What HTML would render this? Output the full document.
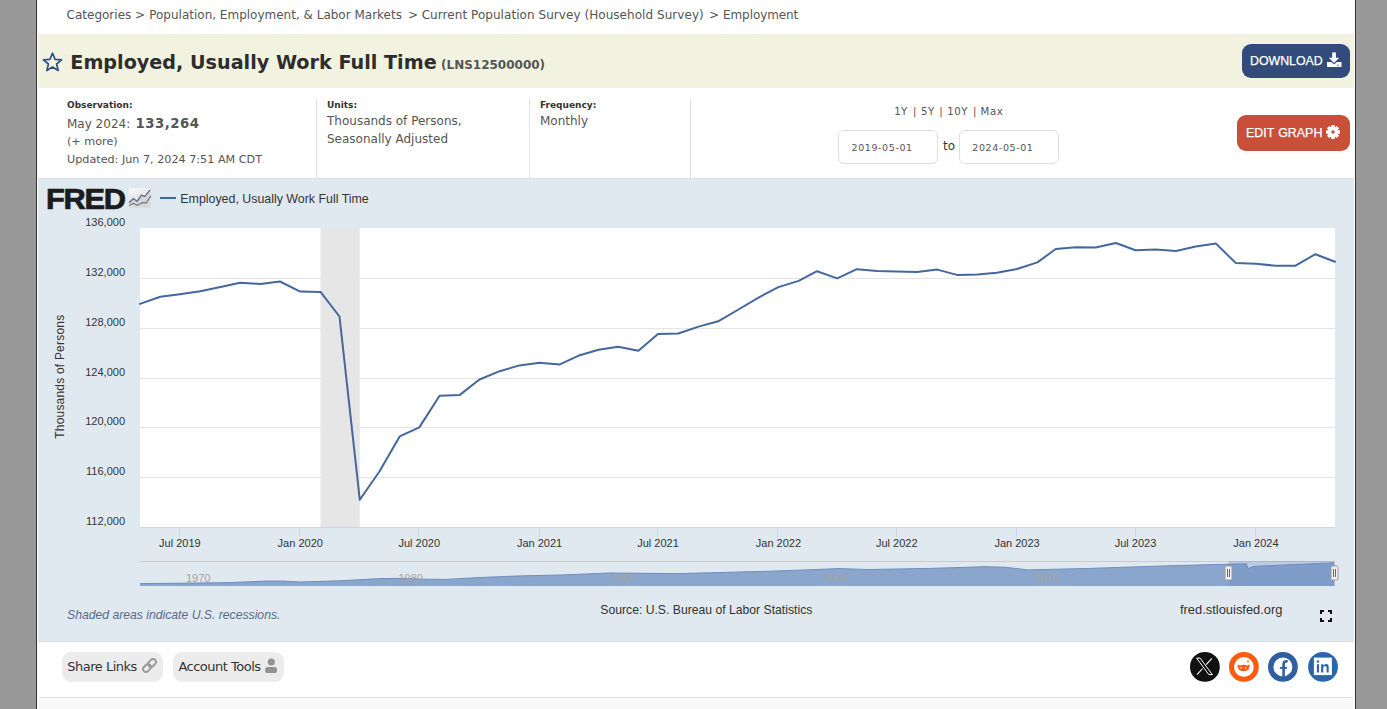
<!DOCTYPE html>
<html><head><meta charset="utf-8"><title>Employed, Usually Work Full Time (LNS12500000) | FRED</title>
<style>
*{box-sizing:border-box}
html,body{margin:0;padding:0}
body{width:1387px;height:709px;overflow:hidden;background:#999;position:relative;font-family:"DejaVu Sans",Verdana,sans-serif;color:#333}
.a{position:absolute;white-space:nowrap;line-height:1}
.ls{font-family:"Liberation Sans",Arial,sans-serif}
#page{position:absolute;left:36px;top:0;width:1320px;height:709px;background:#fff;border-left:1px solid #333;border-right:1px solid #333}
#band{position:absolute;left:38px;top:34px;width:1316px;height:54px;background:#f1f3e0}
#chartbg{position:absolute;left:38px;top:178px;width:1316px;height:464px;background:#e1e9f0;border-top:1px solid #dbe0e6;border-bottom:1px solid #d9dee4}
#bottom{position:absolute;left:38px;top:697px;width:1315px;height:12px;background:#f9f9f9;border-top:1px solid #e2e2e2;border-top-left-radius:3px;border-top-right-radius:3px}
.sep{position:absolute;top:98px;width:1px;height:80px;background:#e3e3e3}
.btn{position:absolute;border-radius:9px;color:#fff}
.inp{position:absolute;top:130px;width:100px;height:34px;border:1px solid #dedede;border-radius:6px;background:#fff}
.pill{position:absolute;top:652px;height:30px;background:#ececec;border-radius:9px}
.brd{color:#555;font-size:12px}
</style></head>
<body>
<div id="page"></div>
<div id="band"></div>
<div id="chartbg"></div>
<div id="bottom"></div>

<!-- breadcrumb -->
<div class="a brd" style="left:66.6px;top:8.8px">Categories</div>
<div class="a brd" style="left:135px;top:8.8px">&gt;</div>
<div class="a brd" style="left:149.2px;top:8.8px">Population, Employment, &amp; Labor Markets</div>
<div class="a brd" style="left:408px;top:8.8px">&gt;</div>
<div class="a brd" style="left:421.7px;top:8.8px;letter-spacing:.055px">Current Population Survey (Household Survey)</div>
<div class="a brd" style="left:709px;top:8.8px">&gt;</div>
<div class="a brd" style="left:723px;top:8.8px;letter-spacing:-.08px">Employment</div>

<!-- title -->
<svg class="a" style="left:41px;top:51px" width="23" height="22" viewBox="0 0 23 22"><path d="M11.5 2.2 L14.1 8.3 L20.6 8.8 L15.6 13 L17.2 19.5 L11.5 16 L5.8 19.5 L7.4 13 L2.4 8.8 L8.9 8.3 Z" fill="none" stroke="#2f5088" stroke-width="1.7" stroke-linejoin="round"/></svg>
<div class="a" style="left:70.3px;top:52.6px;font-size:19.18px;font-weight:bold;color:#2d2d2d">Employed, Usually Work Full Time</div>
<div class="a" style="left:441px;top:58.6px;font-size:12px;font-weight:bold;color:#555">(LNS12500000)</div>

<div class="btn" style="left:1242px;top:44px;width:108px;height:34px;background:#334b7a"></div>
<div class="a ls" style="left:1250px;top:55.4px;font-size:12.35px;color:#fff;-webkit-text-stroke:.25px #fff">DOWNLOAD</div>
<svg class="a" style="left:1327px;top:52px" width="15" height="16" viewBox="0 0 15 16"><rect x="5.2" y="0.4" width="3.7" height="6" fill="#fff"/><path d="M1.8 5.8 H12.2 L7.05 11.1 Z" fill="#fff"/><path d="M-0.1 10 H4.3 L7.05 12.6 L9.8 10 H14.5 V15.1 H-0.1 Z" fill="#fff"/><rect x="10.2" y="12.8" width="1.7" height="0.9" fill="#334b7a"/></svg>

<!-- meta -->
<div class="a" style="left:67px;top:101.2px;font-size:9px;font-weight:bold;color:#333">Observation:</div>
<div class="a" style="left:67px;top:117.6px;font-size:12px;color:#555">May 2024:</div><div class="a" style="left:135.5px;top:116.6px;font-size:13.3px;font-weight:bold;color:#555;letter-spacing:.5px">133,264</div>
<div class="a" style="left:67px;top:135.8px;font-size:11.2px;color:#555">(+ more)</div>
<div class="a" style="left:67px;top:153.8px;font-size:11.2px;color:#555">Updated: Jun 7, 2024 7:51 AM CDT</div>
<div class="sep" style="left:316px"></div>
<div class="a" style="left:327px;top:101.2px;font-size:9px;font-weight:bold;color:#333">Units:</div>
<div class="a" style="left:327px;top:114.5px;font-size:12px;color:#555">Thousands of Persons,</div>
<div class="a" style="left:327px;top:132.7px;font-size:12px;color:#555">Seasonally Adjusted</div>
<div class="sep" style="left:529px"></div>
<div class="a" style="left:540px;top:101.2px;font-size:9px;font-weight:bold;color:#333">Frequency:</div>
<div class="a" style="left:540px;top:114.5px;font-size:12px;color:#555">Monthly</div>
<div class="sep" style="left:690px"></div>

<div class="a" style="left:894.2px;top:107.4px;font-size:10.2px;color:#555;letter-spacing:.4px">1Y</div>
<div class="a" style="left:913px;top:107.4px;font-size:10.2px;color:#555">|</div>
<div class="a" style="left:921px;top:107.4px;font-size:10.2px;color:#555;letter-spacing:.4px">5Y</div>
<div class="a" style="left:939.2px;top:107.4px;font-size:10.2px;color:#555">|</div>
<div class="a" style="left:947.2px;top:107.4px;font-size:10.2px;color:#555;letter-spacing:.6px">10Y</div>
<div class="a" style="left:973px;top:107.4px;font-size:10.2px;color:#555">|</div>
<div class="a" style="left:980.6px;top:107.4px;font-size:10.2px;color:#555;letter-spacing:.55px">Max</div>
<div class="inp" style="left:838px"></div>
<div class="inp" style="left:959px"></div>
<div class="a" style="left:851.5px;top:142.9px;font-size:9.5px;color:#555;letter-spacing:.6px">2019-05-01</div>
<div class="a" style="left:972.3px;top:142.9px;font-size:9.5px;color:#555;letter-spacing:.6px">2024-05-01</div>
<div class="a" style="left:943px;top:140.4px;font-size:12px;color:#333">to</div>

<div class="btn" style="left:1237px;top:115px;width:113px;height:36px;background:#c94f39"></div>
<div class="a ls" style="left:1246px;top:127px;font-size:12.45px;color:#fff;-webkit-text-stroke:.25px #fff;word-spacing:.6px">EDIT GRAPH</div>
<svg class="a" style="left:1324.75px;top:123.85px" width="16" height="16" viewBox="-8 -8 16 16"><g fill="#fff"><circle r="5.4"/><g id="t"><rect x="-1.7" y="-6.95" width="3.4" height="2.8" rx=".4"/></g><use href="#t" transform="rotate(45)"/><use href="#t" transform="rotate(90)"/><use href="#t" transform="rotate(135)"/><use href="#t" transform="rotate(180)"/><use href="#t" transform="rotate(225)"/><use href="#t" transform="rotate(270)"/><use href="#t" transform="rotate(315)"/></g><circle r="1.75" fill="#c94f39"/></svg>

<!-- chart -->
<svg class="a" style="left:0;top:0" width="1387" height="709" viewBox="0 0 1387 709" font-family="Liberation Sans, Arial, sans-serif">
 <rect x="140" y="228" width="1195" height="299.5" fill="#fff"/>
 <g stroke="#e4e4e4" stroke-width="1">
  <line x1="140" x2="1335" y1="278.5" y2="278.5"/>
  <line x1="140" x2="1335" y1="328.5" y2="328.5"/>
  <line x1="140" x2="1335" y1="378.5" y2="378.5"/>
  <line x1="140" x2="1335" y1="427.5" y2="427.5"/>
  <line x1="140" x2="1335" y1="477.5" y2="477.5"/>
 </g>
 <rect x="320.5" y="228" width="39.3" height="299.5" fill="#e6e6e6"/>
 <line x1="140" x2="1335" y1="527.5" y2="527.5" stroke="#ccd6eb"/>
 <g stroke="#ccd6eb">
  <line x1="179.5" x2="179.5" y1="528" y2="537"/>
  <line x1="299.5" x2="299.5" y1="528" y2="537"/>
  <line x1="418.5" x2="418.5" y1="528" y2="537"/>
  <line x1="539.5" x2="539.5" y1="528" y2="537"/>
  <line x1="657.5" x2="657.5" y1="528" y2="537"/>
  <line x1="777.5" x2="777.5" y1="528" y2="537"/>
  <line x1="896.5" x2="896.5" y1="528" y2="537"/>
  <line x1="1016.5" x2="1016.5" y1="528" y2="537"/>
  <line x1="1135.5" x2="1135.5" y1="528" y2="537"/>
  <line x1="1255.5" x2="1255.5" y1="528" y2="537"/>
 </g>
 <polyline fill="none" stroke="#44679e" stroke-width="2" stroke-linejoin="round" stroke-linecap="round" points="140.0,303.9 160.3,296.7 179.9,294.2 200.2,291.3 220.5,286.9 240.1,282.7 260.4,284.0 280.0,281.5 300.2,291.6 320.5,291.9 339.5,316.5 359.8,499.8 379.4,471.5 399.7,436.4 419.3,427.4 439.6,395.8 459.8,394.9 479.5,379.5 499.7,371.2 519.4,365.4 539.6,362.7 559.9,364.4 578.2,355.8 598.5,349.8 618.1,346.7 638.4,350.7 658.0,333.9 678.3,333.5 698.6,326.6 718.2,321.3 738.5,309.5 758.1,297.8 778.4,287.1 798.7,280.9 817.0,271.2 837.2,278.4 856.9,269.2 877.1,271.0 896.8,271.5 917.0,271.9 937.3,269.6 956.9,274.9 977.2,274.4 996.8,272.8 1017.1,269.0 1037.4,262.4 1055.7,249.0 1076.0,247.3 1095.6,247.6 1115.9,243.0 1135.5,250.2 1155.8,249.5 1176.1,250.9 1195.7,246.6 1216.0,243.6 1235.6,262.9 1255.9,263.7 1276.1,265.8 1295.1,265.8 1315.4,254.2 1335.0,261.7"/>
 <g font-size="11" fill="#333" text-anchor="end">
  <text x="125" y="225.9">136,000</text>
  <text x="125" y="275.9">132,000</text>
  <text x="125" y="325.9">128,000</text>
  <text x="125" y="375.9">124,000</text>
  <text x="125" y="424.9">120,000</text>
  <text x="125" y="474.9">116,000</text>
  <text x="125" y="524.9">112,000</text>
 </g>
 <g font-size="11" fill="#333" text-anchor="middle">
  <text x="179.9" y="547">Jul 2019</text>
  <text x="300.25" y="547">Jan 2020</text>
  <text x="419.3" y="547">Jul 2020</text>
  <text x="539.6" y="547">Jan 2021</text>
  <text x="658.0" y="547">Jul 2021</text>
  <text x="778.4" y="547">Jan 2022</text>
  <text x="896.8" y="547">Jul 2022</text>
  <text x="1017.1" y="547">Jan 2023</text>
  <text x="1135.5" y="547">Jul 2023</text>
  <text x="1255.9" y="547">Jan 2024</text>
 </g>
 <text transform="translate(63.8,376.7) rotate(-90)" text-anchor="middle" font-size="12" letter-spacing=".2" fill="#333">Thousands of Persons</text>
 <!-- legend -->
 <line x1="160" x2="176" y1="198" y2="198" stroke="#44679e" stroke-width="2"/>
 <text x="180.3" y="203" font-size="12.4" fill="#333">Employed, Usually Work Full Time</text>
 <!-- navigator -->
 <line x1="140" x2="1335" y1="561.5" y2="561.5" stroke="#cccccc"/>

 <polygon points="140,583.6 183,583.2 230,582.6 268,581 284,581.1 300,582 340,580.8 380,578.6 402,578.3 420,579.1 446,579.4 480,577.5 519,575.9 560,575 610,573 679,573.6 770,571.2 816,569.5 839,568.6 868,569.5 930,568.4 985,566.7 1005,567.2 1028,569.9 1090,568.4 1159,566.1 1223,564.3 1246.5,563.8 1247.7,568.6 1254,566.4 1334.5,562.8 1334.5,586 140,586" fill="#8ba6cc"/>
 <polyline points="140,583.6 183,583.2 230,582.6 268,581 284,581.1 300,582 340,580.8 380,578.6 402,578.3 420,579.1 446,579.4 480,577.5 519,575.9 560,575 610,573 679,573.6 770,571.2 816,569.5 839,568.6 868,569.5 930,568.4 985,566.7 1005,567.2 1028,569.9 1090,568.4 1159,566.1 1223,564.3 1246.5,563.8 1247.7,568.6 1254,566.4 1334.5,562.8" fill="none" stroke="#6f8fc0" stroke-width="1"/>
 <g font-size="11" fill="#a3a3a3">
  <text x="186" y="582">1970</text>
  <text x="398.5" y="582">1980</text>
  <text x="611" y="582">1990</text>
  <text x="822.5" y="582">2000</text>
  <text x="1034" y="582">2010</text>
 </g>
 <rect x="1228.5" y="561" width="106" height="25" fill="#6685c2" fill-opacity=".3"/>
 <g fill="#f2f2f2" stroke="#999" stroke-width="1">
  <rect x="1225" y="566" width="7" height="14" rx="1.5"/>
  <rect x="1331" y="566" width="7" height="14" rx="1.5"/>
 </g>
 <g stroke="#666" stroke-width="1">
  <line x1="1227.5" x2="1227.5" y1="569" y2="577"/><line x1="1229.5" x2="1229.5" y1="569" y2="577"/>
  <line x1="1333.5" x2="1333.5" y1="569" y2="577"/><line x1="1335.5" x2="1335.5" y1="569" y2="577"/>
 </g>
 <!-- footer texts -->
 <text x="67" y="619" font-size="12.2" font-style="italic" fill="#5a6a8a">Shaded areas indicate U.S. recessions.</text>
 <text x="600.3" y="614" font-size="12.2" fill="#333">Source: U.S. Bureau of Labor Statistics</text>
 <text x="1180" y="613.9" font-size="12.9" fill="#333">fred.stlouisfed.org</text>
 <g stroke="#111" stroke-width="2" fill="none">
  <path d="M1321 614 V611 H1324 M1328 611 H1331 V614 M1331 618 V621 H1328 M1324 621 H1321 V618"/>
 </g>
</svg>

<!-- FRED logo -->
<div class="a ls" style="left:46px;top:184.6px;font-size:28.6px;font-weight:bold;color:#1c1c1c;letter-spacing:-1.2px;-webkit-text-stroke:.7px #1c1c1c;transform:scaleX(1.077);transform-origin:0 0">FRED</div>
<svg class="a" style="left:128px;top:188px" width="24" height="21" viewBox="0 0 24 21">
 <defs><linearGradient id="lg" x1="0" y1="0" x2="0.3" y2="1"><stop offset="0" stop-color="#f7f9fb"/><stop offset="1" stop-color="#d6d8db"/></linearGradient></defs>
 <rect x="0.7" y="0.2" width="22.2" height="19.5" rx="1.5" fill="url(#lg)"/>
 <polygon points="1.1,14.6 5.5,10.6 9,13.4 13.4,7.3 16.9,8.3 22.1,1.9 22.9,7.9 18.1,15 14.6,14.6 9.4,17.3 5.1,15.4 1.1,17.5" fill="#c9ccd2" fill-opacity=".6"/>
 <polyline points="1.1,14.6 5.5,10.6 9,13.4 13.4,7.3 16.9,8.3 22.1,1.9" fill="none" stroke="#5d6782" stroke-width="1.3"/>
 <polyline points="1.1,17.5 5.1,15.4 9.4,17.3 14.6,14.6 18.1,15 22.9,7.9" fill="none" stroke="#7b7b7b" stroke-width="1.3"/>
</svg>

<!-- share row -->
<div class="pill" style="left:62px;width:101px"></div>
<div class="a" style="left:67.3px;top:660px;font-size:13px;letter-spacing:-.5px;color:#333">Share Links</div>
<svg class="a" style="left:141px;top:657.3px" width="17" height="17" viewBox="-8.5 -8.5 17 17"><g fill="none" stroke="#999" stroke-width="1.9" transform="rotate(-45)"><rect x="-7.9" y="-2.9" width="8.6" height="5.8" rx="2.9"/><rect x="-0.7" y="-2.9" width="8.6" height="5.8" rx="2.9"/></g></svg>
<div class="pill" style="left:173px;width:111px"></div>
<div class="a" style="left:178.4px;top:660px;font-size:13px;letter-spacing:-.5px;color:#333">Account Tools</div>
<svg class="a" style="left:265px;top:658px" width="13" height="16" viewBox="0 0 13 16"><circle cx="6.3" cy="4.1" r="3.5" fill="#929292"/><rect x="0.1" y="9" width="11.9" height="6" rx="2.6" fill="#929292"/></svg>

<!-- social -->
<svg class="a" style="left:1189px;top:651px" width="151" height="32" viewBox="0 0 151 32">
 <circle cx="15.9" cy="15.9" r="14.9" fill="#111"/>
 <path d="M7.6 7.1 H11.1 L23.3 23.6 H19.8 Z" fill="none" stroke="#fff" stroke-width="1" stroke-linejoin="round"/>
 <path d="M22.9 7.3 L17.1 13.6 M13.6 17.5 L8 23.6" stroke="#fff" stroke-width="1.1"/>
 <circle cx="54.9" cy="15.9" r="12.4" fill="#fff" stroke="#fb5a0f" stroke-width="5"/>
 <ellipse cx="54.6" cy="16.9" rx="5.4" ry="3.2" fill="#fb5a0f"/>
 <circle cx="49.6" cy="15" r="1.2" fill="#fb5a0f"/><circle cx="59.6" cy="15" r="1.2" fill="#fb5a0f"/>
 <circle cx="59" cy="10.4" r=".9" fill="#fb5a0f"/>
 <circle cx="52.3" cy="16.8" r=".9" fill="#fff"/><circle cx="56.7" cy="16.8" r=".9" fill="#fff"/>
 <circle cx="93.9" cy="15.9" r="12.2" fill="#fff" stroke="#305fa0" stroke-width="5.4"/>
 <path d="M94.6 26 V13.2 Q94.6 10.6 97.2 10.3 H98.7" fill="none" stroke="#305fa0" stroke-width="2.6"/>
 <path d="M90.8 16.9 H98" stroke="#305fa0" stroke-width="1.8"/>
 <circle cx="134" cy="15.9" r="14.9" fill="#2b66ad"/>
 <rect x="124.9" y="6.6" width="18" height="17.5" fill="#fff"/>
 <rect x="127.9" y="13.2" width="2.1" height="8.3" fill="#2b66ad"/>
 <circle cx="128.95" cy="10.5" r="1.25" fill="#2b66ad"/>
 <path d="M132.1 13.2 H134.2 V14.5 Q135.3 13 137.2 13 Q139.7 13 139.7 16.2 V21.5 H137.6 V16.7 Q137.6 15 136.2 15 Q134.2 15 134.2 17.2 V21.5 H132.1 Z" fill="#2b66ad"/>
</svg>
</body></html>
